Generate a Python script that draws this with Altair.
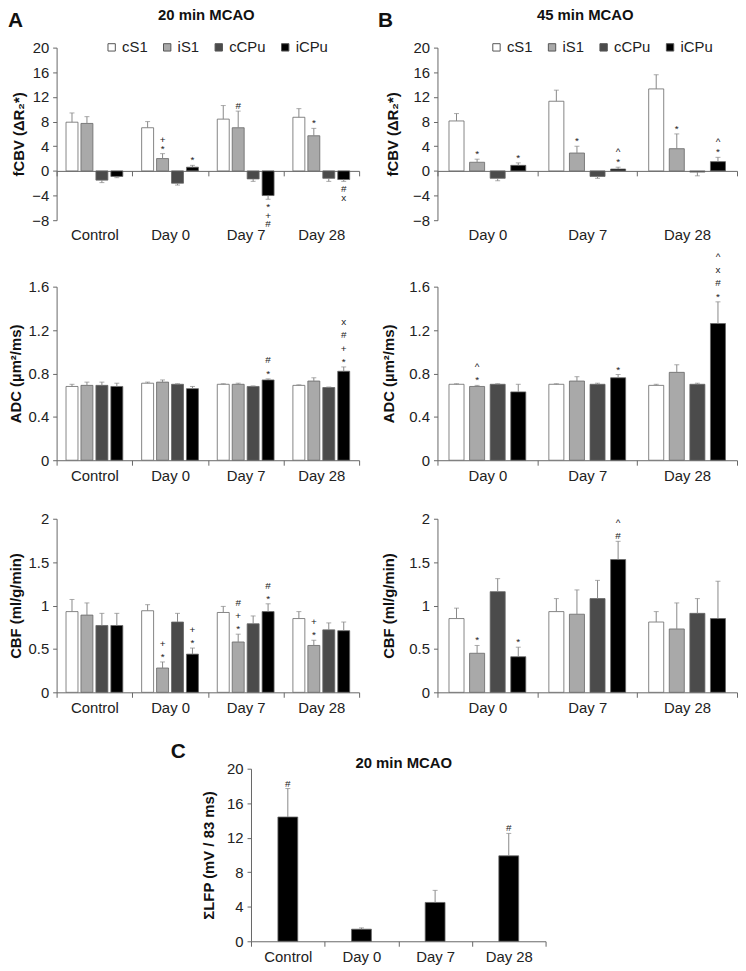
import altair as alt
import pandas as pd

FONT = "Liberation Sans"
SERIES = ["cS1", "iS1", "cCPu", "iCPu"]
COLORS = ["#ffffff", "#a9a9a9", "#4b4b4b", "#000000"]
GROUPS_A = ["Control", "Day 0", "Day 7", "Day 28"]
GROUPS_B = ["Day 0", "Day 7", "Day 28"]

# ---- A: 20 min MCAO, fCBV ----
fcbv_a_mean = {"cS1": [7.9, 7.0, 8.4, 8.7], "iS1": [7.7, 2.0, 7.0, 5.7],
               "cCPu": [-1.5, -2.0, -1.3, -1.2], "iCPu": [-0.9, 0.6, -4.0, -1.4]}
fcbv_a_err = {"cS1": [1.5, 1.0, 2.2, 1.4], "iS1": [1.1, 0.8, 2.7, 1.2],
              "cCPu": [0.4, 0.3, 0.4, 0.5], "iCPu": [0.2, 0.3, 0.6, 0.3]}
fcbv_a_sig = {("Day 0", "iS1"): "+\n*", ("Day 0", "iCPu"): "*", ("Day 7", "iS1"): "#",
              ("Day 7", "iCPu"): "*\n+\n#", ("Day 28", "iS1"): "*", ("Day 28", "iCPu"): "#\nx"}

# ---- B: 45 min MCAO, fCBV ----
fcbv_b_mean = {"cS1": [8.1, 11.3, 13.3], "iS1": [1.4, 2.9, 3.6],
               "cCPu": [-1.2, -0.9, -0.2], "iCPu": [0.9, 0.3, 1.5]}
fcbv_b_err = {"cS1": [1.2, 1.8, 2.3], "iS1": [0.5, 1.1, 2.4],
              "cCPu": [0.4, 0.3, 0.6], "iCPu": [0.4, 0.3, 0.7]}
fcbv_b_sig = {("Day 0", "iS1"): "*", ("Day 0", "iCPu"): "*", ("Day 7", "iS1"): "*",
              ("Day 7", "iCPu"): "^\n*", ("Day 28", "iS1"): "*", ("Day 28", "iCPu"): "^\n*"}

# ---- ADC ----
adc_a_mean = {"cS1": [0.68, 0.71, 0.70, 0.69], "iS1": [0.69, 0.72, 0.70, 0.73],
              "cCPu": [0.69, 0.70, 0.68, 0.67], "iCPu": [0.68, 0.66, 0.74, 0.82]}
adc_a_err = {"cS1": [0.02, 0.01, 0.005, 0.005], "iS1": [0.03, 0.02, 0.01, 0.03],
             "cCPu": [0.03, 0.005, 0.005, 0.005], "iCPu": [0.03, 0.02, 0.01, 0.04]}
adc_a_sig = {("Day 7", "iCPu"): "#\n*", ("Day 28", "iCPu"): "x\n#\n+\n*"}

adc_b_mean = {"cS1": [0.70, 0.70, 0.69], "iS1": [0.68, 0.73, 0.81],
              "cCPu": [0.70, 0.70, 0.70], "iCPu": [0.63, 0.76, 1.26]}
adc_b_err = {"cS1": [0.005, 0.005, 0.01], "iS1": [0.01, 0.04, 0.07],
             "cCPu": [0.005, 0.01, 0.01], "iCPu": [0.07, 0.03, 0.20]}
adc_b_sig = {("Day 0", "iS1"): "^\n*", ("Day 7", "iCPu"): "*", ("Day 28", "iCPu"): "^\nx\n#\n*"}

# ---- CBF ----
cbf_a_mean = {"cS1": [0.93, 0.94, 0.92, 0.85], "iS1": [0.89, 0.28, 0.58, 0.54],
              "cCPu": [0.77, 0.81, 0.79, 0.72], "iCPu": [0.77, 0.44, 0.93, 0.71]}
cbf_a_err = {"cS1": [0.14, 0.07, 0.07, 0.08], "iS1": [0.14, 0.07, 0.09, 0.06],
             "cCPu": [0.14, 0.10, 0.09, 0.08], "iCPu": [0.14, 0.07, 0.09, 0.10]}
cbf_a_sig = {("Day 0", "iS1"): "+\n*", ("Day 0", "iCPu"): "+\n*", ("Day 7", "iS1"): "#\n+\n*",
             ("Day 7", "iCPu"): "#\n*", ("Day 28", "iS1"): "+\n*"}

cbf_b_mean = {"cS1": [0.85, 0.93, 0.81], "iS1": [0.45, 0.90, 0.73],
              "cCPu": [1.16, 1.08, 0.91], "iCPu": [0.41, 1.53, 0.85]}
cbf_b_err = {"cS1": [0.12, 0.15, 0.12], "iS1": [0.09, 0.28, 0.30],
             "cCPu": [0.15, 0.21, 0.17], "iCPu": [0.11, 0.21, 0.43]}
cbf_b_sig = {("Day 0", "iS1"): "*", ("Day 0", "iCPu"): "*", ("Day 7", "iCPu"): "^\n#"}

# ---- C: LFP ----
lfp_mean = [14.4, 1.4, 4.5, 9.9]
lfp_err = [3.3, 0.15, 1.4, 2.6]
lfp_sig = ["#", "", "", "#"]


def build_df(groups, mean, err, sig):
    rows = []
    for s in SERIES:
        for i, g in enumerate(groups):
            m = mean[s][i]
            e = err[s][i]
            end = m + e if m >= 0 else m - e
            t = sig.get((g, s), "")
            rows.append(dict(group=g, series=s, mean=m, end=end, sig=t,
                             n=(t.count("\n") + 1) if t else 0, up=bool(m >= 0)))
    return pd.DataFrame(rows)


def text_layer(x, y, txt, size, weight="bold", align="left"):
    return alt.Chart(pd.DataFrame({"t": [txt]})).mark_text(
        fontSize=size, fontWeight=weight, align=align, baseline="alphabetic",
        font=FONT, color="#111").encode(text="t:N", x=alt.value(x), y=alt.value(y))


def panel(df, groups, ydom, yvals, ytitle, w, h, pin, pout, lh,
          zero_axis=False, legend=None, title=None, letter=None,
          tpad=8, legend_x=48):
    xs = alt.Scale(paddingInner=0, paddingOuter=0)
    if zero_axis:
        off = -h * (0 - ydom[0]) / (ydom[1] - ydom[0])
        xaxis = alt.Axis(title=None, labelAngle=0, tickBand="extent", tickSize=5,
                         offset=off, labelPadding=-off - 5 + 7)
    else:
        xaxis = alt.Axis(title=None, labelAngle=0, tickBand="extent", tickSize=5, labelPadding=3)
    X = alt.X("group:N", sort=groups, scale=xs, axis=xaxis)
    XO = alt.XOffset("series:N", sort=SERIES, scale=alt.Scale(paddingInner=pin, paddingOuter=pout))
    ys = alt.Scale(domain=ydom, nice=False)
    yaxis = alt.Axis(values=yvals, format="~g", title=ytitle, titlePadding=tpad,
                     tickSize=4, labelPadding=4)

    def Y(f):
        return alt.Y(f, type="quantitative", scale=ys, axis=yaxis, stack=None)

    if legend:
        leg = alt.Legend(orient="none", legendX=legend_x, legendY=-8, direction="horizontal",
                         title=None, symbolType="square", symbolSize=55, labelFontSize=15,
                         symbolStrokeColor="#555", symbolStrokeWidth=1, columnPadding=12,
                         labelOffset=3, labelColor="#222")
    else:
        leg = None
    base = alt.Chart(df).encode(x=X, xOffset=XO)
    bars = base.mark_bar(stroke="#666", strokeWidth=0.8).encode(
        y=Y("mean"), y2=alt.datum(0),
        color=alt.Color("series:N", sort=SERIES,
                        scale=alt.Scale(domain=SERIES, range=COLORS), legend=leg))
    errs = base.mark_rule(color="#888", strokeWidth=1).encode(y=Y("mean"), y2="end:Q")
    caps = base.mark_tick(color="#888", size=5, thickness=1).encode(y=Y("end"))
    layers = [bars, errs, caps]
    for n in range(1, 5):
        layers.append(base.transform_filter(f"datum.n == {n} && datum.up").mark_text(
            baseline="bottom", lineBreak="\n", fontSize=10, lineHeight=lh, color="#222",
            dy=-(n - 1) * lh, font=FONT).encode(y=Y("end"), text="sig:N"))
    layers.append(base.transform_filter("datum.n > 0 && !datum.up").mark_text(
        baseline="top", lineBreak="\n", fontSize=10, lineHeight=lh, color="#222", dy=3,
        font=FONT).encode(y=Y("end"), text="sig:N"))
    if letter:
        layers.append(text_layer(letter[1], letter[2], letter[0], 21))
    if title:
        layers.append(text_layer(title[1], title[2], title[0], 15, align="center"))
    return alt.layer(*layers).properties(width=w, height=h)


def spacer(w, h):
    return alt.Chart(pd.DataFrame({"a": [0]})).mark_point(opacity=0).encode(
        x=alt.X("a:Q", axis=None), y=alt.Y("a:Q", axis=None)).properties(width=w, height=h)


FCBV_VALS = [-8, -4, 0, 4, 8, 12, 16, 20]
ADC_VALS = [0, 0.4, 0.8, 1.2, 1.6]
CBF_VALS = [0, 0.5, 1, 1.5, 2]
T_FCBV = "fCBV (ΔR₂*)"
T_ADC = "ADC (µm²/ms)"
T_CBF = "CBF (ml/g/min)"

A1 = panel(build_df(GROUPS_A, fcbv_a_mean, fcbv_a_err, fcbv_a_sig), GROUPS_A, [-8, 20], FCBV_VALS,
           T_FCBV, 305, 174, 0.2, 0.63, 8.5, zero_axis=True, legend=True,
           title=("20 min MCAO", 151, -28), letter=("A", -49, -21), tpad=5, legend_x=48)
B1 = panel(build_df(GROUPS_B, fcbv_b_mean, fcbv_b_err, fcbv_b_sig), GROUPS_B, [-8, 20], FCBV_VALS,
           T_FCBV, 302, 174, 0.27, 0.56, 10, zero_axis=True, legend=True,
           title=("45 min MCAO", 149, -28), letter=("B", -60, -21), tpad=12, legend_x=52)
A2 = panel(build_df(GROUPS_A, adc_a_mean, adc_a_err, adc_a_sig), GROUPS_A, [0, 1.6], ADC_VALS,
           T_ADC, 305, 175, 0.2, 0.63, 13.5, tpad=5)
B2 = panel(build_df(GROUPS_B, adc_b_mean, adc_b_err, adc_b_sig), GROUPS_B, [0, 1.6], ADC_VALS,
           T_ADC, 302, 175, 0.27, 0.56, 13.5, tpad=12)
A3 = panel(build_df(GROUPS_A, cbf_a_mean, cbf_a_err, cbf_a_sig), GROUPS_A, [0, 2], CBF_VALS,
           T_CBF, 305, 175, 0.2, 0.63, 13, tpad=5)
B3 = panel(build_df(GROUPS_B, cbf_b_mean, cbf_b_err, cbf_b_sig), GROUPS_B, [0, 2], CBF_VALS,
           T_CBF, 302, 175, 0.27, 0.56, 13, tpad=12)

# Panel C
cdf = pd.DataFrame({"group": GROUPS_A, "mean": lfp_mean,
                    "end": [m + e for m, e in zip(lfp_mean, lfp_err)], "sig": lfp_sig})
cx = alt.X("group:N", sort=GROUPS_A, scale=alt.Scale(paddingInner=0, paddingOuter=0),
           axis=alt.Axis(title=None, labelAngle=0, tickBand="extent", tickSize=5, labelPadding=3))
cys = alt.Scale(domain=[0, 20], nice=False)
cyaxis = alt.Axis(values=[0, 4, 8, 12, 16, 20], format="~g", title="ΣLFP (mV / 83 ms)",
                  titlePadding=10, tickSize=4, labelPadding=4)


def CY(f):
    return alt.Y(f, type="quantitative", scale=cys, axis=cyaxis)


cbase = alt.Chart(cdf).encode(x=cx)
c_bars = cbase.mark_bar(color="#000000", stroke="#666", strokeWidth=0.8, width=20).encode(
    y=CY("mean"), y2=alt.datum(0))
c_err = cbase.mark_rule(color="#888").encode(y=CY("mean"), y2="end:Q")
c_cap = cbase.mark_tick(color="#888", size=5, thickness=1).encode(y=CY("end"))
c_sig = cbase.transform_filter("datum.sig != ''").mark_text(
    baseline="bottom", fontSize=10, color="#222", font=FONT).encode(y=CY("end"), text="sig:N")
C = alt.layer(c_bars, c_err, c_cap, c_sig,
              text_layer(-81, -11, "C", 21),
              text_layer(154, -1, "20 min MCAO", 15, align="center")).properties(
    width=297, height=174)

sp1 = spacer(1, 67)
sp2 = spacer(1, 59)
grid = alt.concat(A1, B1, sp1, sp1, A2, B2, sp2, sp2, A3, B3, columns=2,
                  spacing={"row": 0, "column": 79}, bounds="flush").resolve_scale(
    color="independent", xOffset="independent", x="independent", y="independent"
).resolve_legend(color="independent")

crow = alt.hconcat(spacer(101, 10), C, spacing=14)

chart = alt.vconcat(grid, crow, spacing=26).resolve_scale(
    color="independent", x="independent", y="independent"
).resolve_legend(color="independent").properties(
    padding={"left": 0, "top": -4, "right": 0, "bottom": 0}
).configure(font=FONT).configure_view(stroke=None).configure_axis(
    grid=False, labelFontSize=15, labelColor="#222", titleFontSize=15, titleFontWeight="bold",
    titleColor="#111", domainColor="#666", tickColor="#666", labelFont=FONT, titleFont=FONT
)

chart.save("out.html", embed_options={"renderer": "svg", "actions": False})
